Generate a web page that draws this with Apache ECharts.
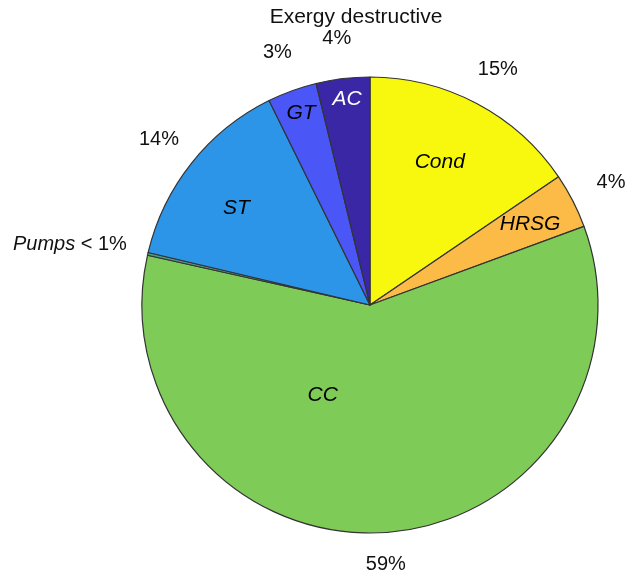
<!DOCTYPE html>
<html>
<head>
<meta charset="utf-8">
<script src="https://cdn.jsdelivr.net/npm/echarts@6/dist/echarts.min.js"></script>
<style>
html, body { margin: 0; padding: 0; background: #fff; }
#main { width: 626px; height: 577px; }
</style>
</head>
<body>
<div id="main"></div>
<script>
// components, clockwise from 12 o'clock
var names = ['Cond', 'HRSG', 'CC', 'Pumps', 'ST', 'GT', 'AC'];
var values = [15.5, 3.9, 59.1, 0.2, 14.0, 3.5, 3.8];
var pctLabels = ['15%', '4%', '59%', '{i|Pumps} < 1%', '14%', '3%', '4%'];
var colors = ['#f8f80e', '#fbbb46', '#7fcb58', '#4d9a8a', '#2c95e8', '#4a57f6', '#3a27a6'];
var nameColors = ['#000', '#000', '#000', '#000', '#000', '#000', '#fff'];
// label nudges for inner names / outer percent
var nameOffsets = [[15, -39], [56, -27], [-55, -27], [0, 0], [-42, -24], [-29, -82], [-9, -90]];
var pctOffsets = [[1, 4], [0, 1], [-2, -11], [-36, 0], [1, 3], [0, 2], [-1, 3]];

var FONT = 'Liberation Sans, Arial, sans-serif';

var chart = echarts.init(document.getElementById('main'));

var mainData = names.map(function (n, i) {
	return {
		name: n,
		value: values[i],
		itemStyle: { color: colors[i] },
		label: {
			show: n !== 'Pumps',
			color: nameColors[i],
			offset: nameOffsets[i]
		}
	};
});

var pctData = names.map(function (n, i) {
	return {
		name: n,
		value: values[i],
		label: { formatter: pctLabels[i], offset: pctOffsets[i] }
	};
});

chart.setOption({
	animation: false,
	title: {
		text: 'Exergy destructive',
		left: 351,
		top: 2,
		textAlign: 'center',
		textStyle: {
			fontFamily: FONT,
			fontSize: 21,
			fontWeight: 'normal',
			color: '#111'
		}
	},
	series: [
		{
			type: 'pie',
			center: [370, 305],
			radius: [0, 228],
			startAngle: 90,
			clockwise: true,
			silent: true,
			itemStyle: { borderColor: '#333', borderWidth: 1.2 },
			label: {
				position: 'inside',
				formatter: '{b}',
				fontFamily: FONT,
				fontStyle: 'italic',
				fontSize: 21
			},
			labelLine: { show: false },
			data: mainData
		},
		{
			type: 'pie',
			center: [370, 305],
			radius: [228, 308],
			startAngle: 90,
			clockwise: true,
			silent: true,
			itemStyle: { color: 'rgba(0,0,0,0)', borderWidth: 0 },
			label: {
				position: 'inside',
				color: '#111',
				fontFamily: FONT,
				fontSize: 20,
				rich: {
					i: {
						fontFamily: FONT,
						fontStyle: 'italic',
						fontSize: 20,
						color: '#111'
					}
				}
			},
			labelLine: { show: false },
			data: pctData
		}
	]
});
</script>
</body>
</html>
